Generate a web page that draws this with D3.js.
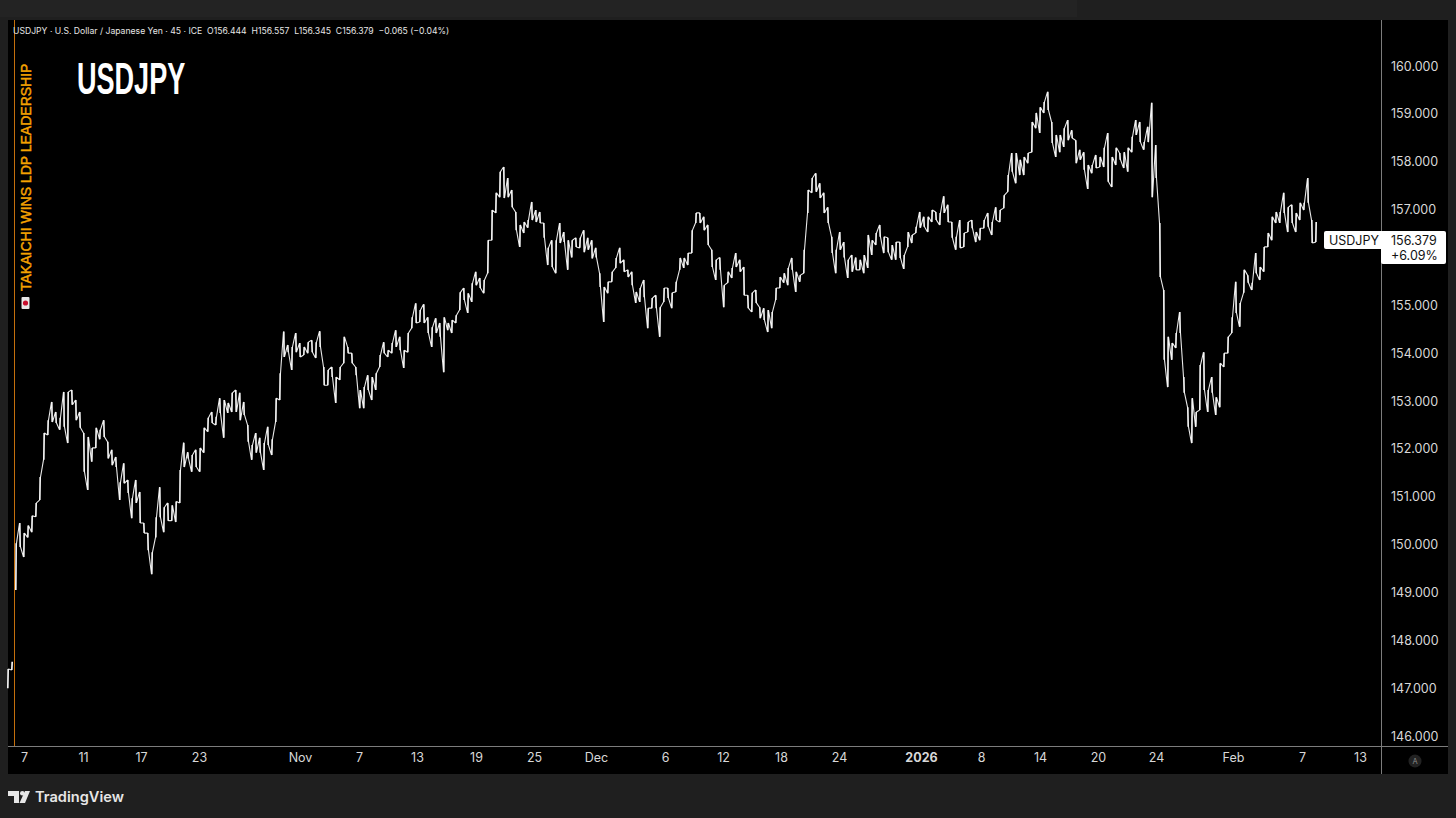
<!DOCTYPE html>
<html lang="en">
  <head>
    <meta charset="UTF-8" />
    <title>USDJPY</title>
    <style>
      html, body { margin: 0; padding: 0; background: #1f1f1f; overflow: hidden; }
      svg { display: block; }
      .axis text { font-family: Inter, Roboto, sans-serif; font-size: 12.5px; fill: #d8d8d8; }
      .axis path, .axis line { stroke: none; }
    </style>
  </head>

  <body>
    <script src="https://cdn.jsdelivr.net/npm/d3@7"></script>

    <script>
    // price range of each column of the chart
    var priceHigh = [
      147.40,147.55,150.03,150.45,150.24,150.40,150.60,150.87,151.41,152.33,
      152.60,152.98,152.77,152.65,153.19,153.19,153.23,153.02,152.77,152.33,
      152.25,152.02,152.44,152.40,152.60,152.15,151.98,151.83,151.30,151.70,
      151.35,150.97,151.35,151.10,150.45,150.24,149.84,150.57,151.20,150.78,
      150.87,150.82,150.90,151.56,152.13,151.93,151.87,151.98,152.02,152.44,
      152.65,152.77,152.67,153.06,153.02,152.96,153.17,153.23,153.17,152.98,
      152.50,152.08,152.33,152.23,152.12,152.46,152.20,153.06,153.58,154.45,
      154.17,154.13,154.42,154.21,154.13,154.23,154.27,154.23,154.46,153.71,
      153.65,153.71,153.50,153.71,154.34,154.13,154.00,153.71,153.23,153.29,
      153.54,153.50,153.58,153.96,154.23,154.06,154.21,154.48,154.34,154.06,
      154.42,154.75,155.04,154.90,155.02,154.75,154.54,154.73,154.63,154.75,
      154.63,154.69,154.79,155.27,155.36,155.25,155.46,155.70,155.57,155.53,
      156.36,156.99,157.35,157.79,157.89,157.66,157.41,156.95,156.68,156.74,
      156.78,157.16,156.99,156.95,156.72,156.20,156.36,156.36,156.72,156.53,
      156.36,156.36,156.41,156.41,156.57,156.41,156.36,156.20,155.67,155.38,
      155.49,155.70,155.99,156.20,155.95,155.74,155.70,155.28,155.36,155.53,
      154.94,155.15,155.21,154.96,155.36,155.36,155.26,155.49,155.99,155.99,
      156.09,156.57,156.93,156.93,156.85,156.68,156.16,155.95,156.00,155.42,
      155.70,155.78,156.09,155.95,155.80,155.21,155.26,155.32,154.96,154.94,
      154.90,154.86,155.36,155.59,155.67,155.78,155.99,155.70,155.63,156.16,
      157.41,157.66,157.76,157.55,157.35,157.05,156.43,156.16,156.53,156.32,
      155.95,156.05,156.00,155.95,156.05,156.47,156.36,156.51,156.68,156.43,
      156.41,156.26,156.32,156.32,156.05,156.53,156.47,156.64,156.95,156.85,
      156.85,156.99,156.95,156.93,157.28,157.10,156.74,156.43,156.78,156.51,
      156.74,156.78,156.53,156.61,156.78,156.93,156.74,157.05,156.99,157.30,
      157.72,158.18,158.18,158.04,158.10,158.18,158.83,159.02,159.14,159.25,
      159.46,158.83,158.56,158.56,158.70,158.87,158.66,158.45,158.25,158.20,
      157.93,157.93,158.14,158.10,158.29,158.60,158.10,158.29,158.18,158.20,
      158.29,158.52,158.87,158.83,158.41,158.73,159.23,158.35,156.72,155.32,
      154.34,154.21,154.42,154.86,153.50,152.87,153.06,152.77,153.75,154.02,
      153.23,153.50,153.08,153.79,154.00,154.34,154.75,155.49,155.05,155.74,
      155.63,155.47,156.09,155.80,156.22,156.51,156.85,156.95,156.95,157.35,
      157.05,157.10,156.93,157.14,157.14,157.66,156.78,156.74
    ];
    var priceLow = [
      147.00,147.38,149.05,149.95,149.74,150.15,150.26,150.58,150.93,151.77,
      152.29,152.56,152.54,152.40,152.46,152.12,152.92,152.60,152.44,151.52,
      151.14,151.73,152.02,152.20,152.25,151.80,151.66,151.62,150.93,151.28,
      151.08,150.55,150.87,150.45,150.24,149.88,149.38,150.15,150.57,150.26,
      150.50,150.50,150.47,150.87,151.62,151.80,151.52,151.62,151.52,151.92,
      152.36,152.54,152.50,152.75,152.23,152.75,152.77,152.77,152.60,152.71,
      152.15,151.77,151.92,151.92,151.56,152.08,151.87,152.56,153.02,153.92,
      154.02,153.65,154.02,153.92,153.96,154.00,154.02,153.90,154.13,153.33,
      153.33,153.50,152.96,153.44,153.79,154.00,153.79,153.54,152.85,152.85,
      153.23,153.02,153.23,153.71,154.00,153.92,154.00,154.13,154.06,153.69,
      154.02,154.52,154.63,154.65,154.63,154.42,154.13,154.42,154.34,153.60,
      154.48,154.42,154.63,154.90,155.11,154.84,155.07,155.42,155.36,155.25,
      155.67,156.36,156.93,157.26,157.24,157.26,157.05,156.57,156.22,156.51,
      156.62,156.78,156.74,156.72,156.41,155.84,155.80,155.67,156.30,156.32,
      155.74,156.00,156.22,156.20,156.11,156.16,155.98,156.00,155.38,154.65,
      155.25,155.49,155.78,155.88,155.70,155.59,155.42,155.05,155.07,155.17,
      154.52,154.94,154.94,154.34,155.07,155.15,154.94,155.28,155.74,155.78,
      155.84,156.09,156.72,156.72,156.57,156.26,155.80,155.53,155.74,154.96,
      155.47,155.57,155.80,155.70,155.21,154.94,154.86,155.05,154.73,154.69,
      154.44,154.52,155.11,155.36,155.47,155.42,155.74,155.28,155.49,155.67,
      156.93,157.35,157.37,157.24,156.93,156.72,156.09,155.67,156.16,156.00,
      155.57,155.70,155.74,155.74,155.67,155.78,156.05,156.26,156.43,156.09,
      156.11,155.95,155.95,155.99,155.76,156.22,156.30,156.51,156.62,156.64,
      156.53,156.74,156.78,156.68,156.93,156.74,156.41,156.16,156.20,156.22,
      156.53,156.61,156.32,156.36,156.61,156.64,156.47,156.78,156.74,157.03,
      157.37,157.79,157.55,157.72,157.72,157.97,158.20,158.70,158.60,159.02,
      159.08,158.39,158.10,158.20,158.31,158.45,158.49,157.97,158.04,157.83,
      157.43,157.76,157.87,157.89,157.89,157.58,157.47,157.93,158.04,157.87,
      157.79,158.20,158.56,158.41,158.25,158.41,157.26,157.66,155.59,153.86,
      153.29,153.86,154.11,154.42,153.17,152.46,152.12,152.46,152.81,153.23,
      152.77,153.17,152.71,152.87,153.71,154.00,154.42,154.84,154.55,155.26,
      155.47,155.32,155.67,155.53,155.70,156.22,156.36,156.72,156.72,156.93,
      156.53,156.72,156.53,156.78,156.99,157.14,156.30,156.32
    ];
    // the first two columns sit below the jump at the orange line
    var firstRun = 2;

    var priceTicks = [146,147,148,149,150,151,152,153,154,155,156,157,158,159,160];
    var timeTickLabels = ["7","11","17","23","Nov","7","13","19","25","Dec","6","12","18","24","2026","8","14","20","24","Feb","7","13"];
    var timeTickColumns = [4,18.75,33.25,47.75,73,87.75,102.25,117,131.5,147,164.25,178.75,193.25,207.75,228.25,243.25,258,272.5,287,306.25,323.5,338];

    var legendText = "USDJPY · U.S. Dollar / Japanese Yen · 45 · ICE  O156.444  H156.557  L156.345  C156.379  −0.065 (−0.04%)";
    var symbol = "USDJPY";
    var lastPrice = 156.379;
    var lastChange = "+6.09%";
    var eventText = "TAKAICHI WINS LDP LEADERSHIP";

    var width = 1456;
    var height = 818;
    var chart = { left: 8, right: 1448, top: 20, bottom: 774 };
    var priceAxisX = 1381;
    var timeAxisY = 746;

    var svg = d3.select("body").append("svg")
      .attr("width", width)
      .attr("height", height);

    svg.append("rect").attr("width", width).attr("height", height).attr("fill", "#1f1f1f");
    svg.append("rect").attr("width", 1077).attr("height", 17).attr("fill", "#232323");
    svg.append("rect")
      .attr("x", chart.left).attr("y", chart.top)
      .attr("width", chart.right - chart.left)
      .attr("height", chart.bottom - chart.top)
      .attr("fill", "#000");

    var xScale = d3.scaleLinear().domain([0, priceHigh.length - 1]).range([8, 1316]);
    var yScale = d3.scaleLinear().domain([146, 160]).range([736, 66]);

    // event line
    svg.append("line")
      .attr("x1", 14.5).attr("x2", 14.5)
      .attr("y1", chart.top).attr("y2", timeAxisY)
      .attr("stroke", "#c46f0c").attr("stroke-width", 1);

    // each column goes low to high or high to low, whichever meets the next one
    function columnPoints(start, end) {
      var points = [];
      for (var i = start; i < end; i++) {
        var mid = (priceHigh[i] + priceLow[i]) / 2;
        var next = i + 1 < end ? (priceHigh[i + 1] + priceLow[i + 1]) / 2 : mid;
        if (next >= mid) {
          points.push([xScale(i) - 0.5, yScale(priceLow[i])], [xScale(i) + 0.5, yScale(priceHigh[i])]);
        } else {
          points.push([xScale(i) - 0.5, yScale(priceHigh[i])], [xScale(i) + 0.5, yScale(priceLow[i])]);
        }
      }
      return points;
    }

    var priceLine = d3.line();
    [[0, firstRun], [firstRun, priceHigh.length]].forEach(function(run) {
      svg.append("path")
        .attr("d", priceLine(columnPoints(run[0], run[1])))
        .attr("fill", "none")
        .attr("stroke", "#e8e8e8")
        .attr("stroke-width", 1.1)
        .attr("stroke-linejoin", "bevel");
    });

    // bars on top of the connecting line, the dense part of each column
    svg.append("g").selectAll("line")
      .data(priceHigh)
      .enter().append("line")
      .attr("x1", function(d, i) { return xScale(i); })
      .attr("x2", function(d, i) { return xScale(i); })
      .attr("y1", function(d) { return yScale(d); })
      .attr("y2", function(d, i) { return yScale(priceLow[i]); })
      .attr("stroke", "#fff")
      .attr("stroke-width", 1.2);

    // axes
    var yAxis = d3.axisRight(yScale)
      .tickValues(priceTicks)
      .tickSize(0)
      .tickPadding(10)
      .tickFormat(d3.format(".3f"));
    svg.append("g")
      .attr("class", "axis")
      .attr("transform", "translate(" + priceAxisX + ",0)")
      .call(yAxis);

    var xAxis = d3.axisBottom(xScale)
      .tickValues(timeTickColumns)
      .tickSize(0)
      .tickPadding(7)
      .tickFormat(function(d, i) { return timeTickLabels[i]; });
    svg.append("g")
      .attr("class", "axis")
      .attr("transform", "translate(0," + timeAxisY + ")")
      .call(xAxis)
      .selectAll("text")
      .style("font-weight", function(d, i) { return timeTickLabels[i] === "2026" ? 700 : 400; });

    svg.append("line")
      .attr("x1", chart.left).attr("x2", chart.right)
      .attr("y1", timeAxisY + 0.5).attr("y2", timeAxisY + 0.5)
      .attr("stroke", "#7c7c7c");
    svg.append("line")
      .attr("x1", priceAxisX + 0.5).attr("x2", priceAxisX + 0.5)
      .attr("y1", chart.top).attr("y2", chart.bottom)
      .attr("stroke", "#7c7c7c");

    // legend line and big title
    svg.append("text")
      .attr("x", 13).attr("y", 33.5)
      .attr("font-family", "Inter, Roboto, sans-serif")
      .attr("font-size", 8.65)
      .attr("fill", "#e6e6e6")
      .attr("xml:space", "preserve")
      .style("white-space", "pre")
      .text(legendText);

    // no condensed font here, so the title is squeezed sideways
    svg.append("text")
      .attr("transform", "translate(77,94) scale(0.615,1)")
      .attr("font-family", "'Liberation Sans', sans-serif")
      .attr("font-weight", 700)
      .attr("font-size", 44)
      .attr("fill", "#fff")
      .text(symbol);

    // event note, rotated, with a small Japanese flag under it
    svg.append("text")
      .attr("transform", "translate(31,291) rotate(-90)")
      .attr("font-family", "'Liberation Sans', Arimo, sans-serif")
      .attr("font-size", 14)
      .attr("font-weight", 400)
      .attr("stroke", "#f5a300")
      .attr("stroke-width", 0.45)
      .attr("fill", "#f5a300")
      .text(eventText);
    svg.append("rect")
      .attr("x", 21.5).attr("y", 297).attr("width", 8).attr("height", 12)
      .attr("rx", 1).attr("fill", "#e8e8e8");
    svg.append("circle")
      .attr("cx", 25.5).attr("cy", 303).attr("r", 2.6).attr("fill", "#c8102e");

    // last price label
    var labelY = 231;
    svg.append("rect")
      .attr("x", 1324).attr("y", labelY).attr("width", 60).attr("height", 18)
      .attr("rx", 2).attr("fill", "#fff");
    svg.append("rect")
      .attr("x", priceAxisX).attr("y", labelY).attr("width", 65).attr("height", 33)
      .attr("rx", 2).attr("fill", "#fff");
    var labelFont = "Inter, Roboto, sans-serif";
    svg.append("text").attr("x", 1329).attr("y", labelY + 13.5)
      .attr("font-family", labelFont).attr("font-size", 12.5).attr("fill", "#111")
      .text(symbol);
    svg.append("text").attr("x", 1391).attr("y", labelY + 13.5)
      .attr("font-family", labelFont).attr("font-size", 12.5).attr("fill", "#111")
      .text(d3.format(".3f")(lastPrice));
    svg.append("text").attr("x", 1391).attr("y", labelY + 28.5)
      .attr("font-family", labelFont).attr("font-size", 12.5).attr("fill", "#111")
      .text(lastChange);

    // auto scale badge
    svg.append("circle").attr("cx", 1415).attr("cy", 761).attr("r", 6.5).attr("fill", "#222");
    svg.append("text").attr("x", 1415).attr("y", 764)
      .attr("text-anchor", "middle")
      .attr("font-family", labelFont).attr("font-size", 7.5).attr("fill", "#8a8a8a")
      .text("A");

    // TradingView mark
    var logo = svg.append("g").attr("fill", "#e6e6e6");
    logo.append("path").attr("d", "M8 791H19V803H14V796H8Z");
    logo.append("circle").attr("cx", 22.3).attr("cy", 793.2).attr("r", 2.3);
    logo.append("path").attr("d", "M25 791H30L25 803H19.5Z");
    svg.append("text")
      .attr("x", 35).attr("y", 802)
      .attr("font-family", "Inter, Roboto, sans-serif")
      .attr("font-size", 14.6)
      .attr("font-weight", 600)
      .attr("fill", "#e6e6e6")
      .text("TradingView");
    </script>
  </body>
</html>
